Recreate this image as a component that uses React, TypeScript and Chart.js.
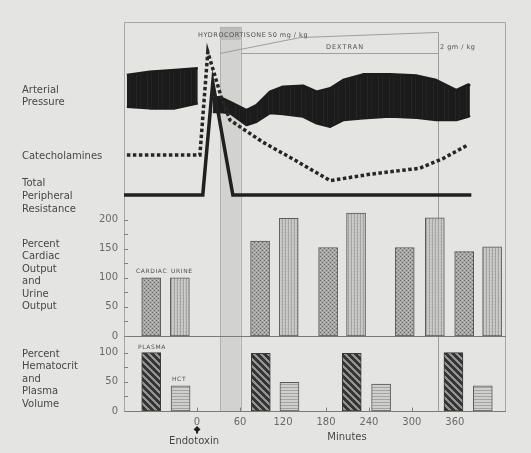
import React, { useEffect, useRef } from 'react';
import { Chart, registerables } from 'chart.js';

Chart.register(...registerables);

// ---------------- DATA ----------------
const xTickMinutes = [0, 60, 120, 180, 240, 300, 360];
const xTickLabels = ['0', '60', '120', '180', '240', '300', '360'];
const midTickValues = [0, 25, 50, 75, 100, 125, 150, 175, 200];
const midTickLabels = ['0', '', '50', '', '100', '', '150', '', '200'];
const botTickValues = [0, 25, 50, 75, 100];
const botTickLabels = ['0', '', '50', '', '100'];

// top panel traces (arbitrary level units, 0..100)
const tprMinutes = [-102, 8, 22, 50, 383];
const tprLevel = [5.5, 5.5, 67, 5.5, 5.5];

const catecholMinutes = [-98, 4, 15, 35, 46, 92, 139, 186, 241, 311, 344, 378];
const catecholLevel = [27.3, 27.3, 83.6, 57.4, 46.4, 34.3, 24, 13.3, 16.8, 20.1, 25.5, 32.8];

const apPreMinutes = [-98, -66, -31, 1];
const apPreUpper = [71, 72.8, 73.8, 74.7];
const apPreLower = [53.7, 52.8, 52.8, 55.6];

const apPostMinutes = [22, 32, 46, 69, 83, 102, 120, 148, 167, 186, 204, 232, 269, 307, 334, 362, 379, 381];
const apPostUpper = [58.5, 59, 56.4, 51.9, 54.6, 61.9, 64.6, 65.2, 61.9, 63.8, 68.3, 71.4, 71.4, 70.7, 68.3, 62.8, 65.9, 65];
const apPostLower = [50.8, 50.8, 50.3, 43.7, 45.5, 50.3, 49.7, 48.3, 44.6, 42.8, 46.4, 47.4, 48.3, 47.7, 46.4, 46.4, 48.3, 49];

// middle panel: percent cardiac output and urine output
const cardiacMinutes = [-64, 88, 183, 290, 373];
const cardiacPercent = [100, 163, 152, 152, 145];
const urineMinutes = [-24, 128, 222, 332, 412];
const urinePercent = [100, 202, 211, 203, 153];

// bottom panel: percent hematocrit and plasma volume
const plasmaMinutes = [-64, 89, 216, 358];
const plasmaPercent = [100, 99, 99, 100];
const hctMinutes = [-23, 129, 257, 399];
const hctPercent = [43, 49, 46, 43];

// infusions
const hydrocortisoneMinutes = [32, 61];
const dextranSlopeMinutes = [32, 144, 337];
const dextranSlopeLevel = [82.8, 91.5, 94.3];
const dextranEndMinute = 337;
const dextranBaseLevel = 82.8;
const endotoxinMinute = 0;

// ---------------- STYLE ----------------
const BG = '#e4e4e2';
const FONT = '"DejaVu Sans", sans-serif';
const TEXT = '#474747';
const TICK = '#6a6a6a';

const pts = (xs: number[], ys: number[]) => xs.map((x, i) => ({ x, y: ys[i] }));

function makePattern(w: number, h: number, draw: (g: CanvasRenderingContext2D) => void) {
  const c = document.createElement('canvas');
  c.width = w;
  c.height = h;
  const g = c.getContext('2d')!;
  draw(g);
  return g.createPattern(c, 'repeat')!;
}

const decorPlugin = {
  id: 'decor',
  beforeDatasetsDraw(chart: any) {
    const { ctx, chartArea: a, scales } = chart;
    const x = scales.x, yT = scales.yTop, yM = scales.yMid, yB = scales.yBot;
    ctx.save();
    // hydrocortisone band
    const bx0 = x.getPixelForValue(hydrocortisoneMinutes[0]);
    const bx1 = x.getPixelForValue(hydrocortisoneMinutes[1]);
    const by0 = yT.getPixelForValue(97.3);
    const byDark = yT.getPixelForValue(90.2);
    const by1 = yB.getPixelForValue(0);
    ctx.fillStyle = '#d2d2d0';
    ctx.fillRect(bx0, by0, bx1 - bx0, by1 - by0);
    ctx.fillStyle = '#bcbcba';
    ctx.fillRect(bx0, by0, bx1 - bx0, byDark - by0);
    ctx.strokeStyle = '#b2b2b0';
    ctx.lineWidth = 1;
    ctx.strokeRect(Math.round(bx0) + 0.5, Math.round(by0) + 0.5, Math.round(bx1 - bx0), Math.round(by1 - by0));

    // frame
    ctx.strokeStyle = '#a6a6a4';
    ctx.beginPath();
    ctx.moveTo(a.left + 0.5, a.bottom);
    ctx.lineTo(a.left + 0.5, a.top + 0.5);
    ctx.lineTo(a.right + 0.5, a.top + 0.5);
    ctx.lineTo(a.right + 0.5, a.bottom);
    ctx.stroke();

    // dextran infusion lines
    ctx.strokeStyle = '#9e9e9c';
    ctx.beginPath();
    dextranSlopeMinutes.forEach((m, i) => {
      const px = x.getPixelForValue(m), py = yT.getPixelForValue(dextranSlopeLevel[i]);
      if (i === 0) ctx.moveTo(px, py); else ctx.lineTo(px, py);
    });
    ctx.stroke();
    const dxEnd = Math.round(x.getPixelForValue(dextranEndMinute)) + 0.5;
    const baseY = Math.round(yT.getPixelForValue(dextranBaseLevel)) + 0.5;
    ctx.beginPath();
    ctx.moveTo(bx1, baseY);
    ctx.lineTo(dxEnd, baseY);
    ctx.moveTo(dxEnd, yT.getPixelForValue(dextranSlopeLevel[2]));
    ctx.lineTo(dxEnd, by1);
    ctx.stroke();

    // panel separator and bottom axis
    ctx.strokeStyle = '#7a7a78';
    const sepY = Math.round(yM.getPixelForValue(0)) + 0.5;
    const botY = Math.round(yB.getPixelForValue(0)) + 0.5;
    ctx.beginPath();
    ctx.moveTo(a.left, sepY);
    ctx.lineTo(a.right + 1, sepY);
    ctx.moveTo(a.left, botY);
    ctx.lineTo(a.right + 1, botY);
    ctx.stroke();

    // inner tick marks
    ctx.strokeStyle = '#808080';
    ctx.beginPath();
    [yM, yB].forEach((s: any) => {
      s.ticks.forEach((t: any) => {
        const py = Math.round(s.getPixelForValue(t.value)) + 0.5;
        ctx.moveTo(a.left, py);
        ctx.lineTo(a.left + 4, py);
      });
    });
    x.ticks.forEach((t: any) => {
      const px = Math.round(x.getPixelForValue(t.value)) + 0.5;
      ctx.moveTo(px, botY);
      ctx.lineTo(px, botY - 4);
    });
    ctx.stroke();
    ctx.restore();
  },
  afterDraw(chart: any) {
    const { ctx, scales } = chart;
    const x = scales.x;
    ctx.save();
    ctx.fillStyle = TEXT;
    ctx.textBaseline = 'middle';
    ctx.textAlign = 'left';
    ctx.font = `10px ${FONT}`;
    const left: [string, number][] = [
      ['Arterial', 90], ['Pressure', 102],
      ['Catecholamines', 156],
      ['Total', 183.5], ['Peripheral', 196.5], ['Resistance', 209],
      ['Percent', 244], ['Cardiac', 256.7], ['Output', 269.3], ['and', 281.7], ['Urine', 294.3], ['Output', 306.7],
      ['Percent', 354.3], ['Hematocrit', 366.8], ['and', 379.3], ['Plasma', 391.8], ['Volume', 404.3],
    ];
    left.forEach(([t, y]) => ctx.fillText(t, 22, y));

    ctx.fillStyle = '#505050';
    (ctx as any).letterSpacing = '0.5px';
    ctx.font = `6.5px ${FONT}`;
    ctx.fillText('HYDROCORTISONE', 198, 35);
    ctx.fillText('50 mg / kg', 268, 35);
    ctx.fillText('2 gm / kg', 440, 47);
    (ctx as any).letterSpacing = '1px';
    ctx.textAlign = 'center';
    ctx.fillText('DEXTRAN', 345, 47);
    ctx.textAlign = 'left';
    (ctx as any).letterSpacing = '0.6px';
    ctx.font = `6px ${FONT}`;
    ctx.fillText('CARDIAC', 136, 271);
    ctx.fillText('URINE', 171, 271);
    ctx.fillText('PLASMA', 138, 347);
    ctx.fillText('HCT', 172, 379);
    (ctx as any).letterSpacing = '0px';

    // endotoxin marker
    const ex = x.getPixelForValue(endotoxinMinute);
    ctx.fillStyle = '#1e1e1e';
    ctx.beginPath();
    ctx.moveTo(ex, 426);
    ctx.lineTo(ex + 3.5, 429.5);
    ctx.lineTo(ex + 1, 431.5);
    ctx.lineTo(ex + 1, 433.5);
    ctx.lineTo(ex - 1, 433.5);
    ctx.lineTo(ex - 1, 431.5);
    ctx.lineTo(ex - 3.5, 429.5);
    ctx.closePath();
    ctx.fill();

    ctx.fillStyle = TEXT;
    ctx.font = `10px ${FONT}`;
    ctx.textAlign = 'center';
    ctx.fillText('Endotoxin', ex - 3, 441);
    ctx.fillText('Minutes', 347, 437);
    ctx.restore();
  },
};

export default function App() {
  const ref = useRef<HTMLCanvasElement>(null);

  useEffect(() => {
    const canvas = ref.current!;
    const cardiacPat = makePattern(4, 4, (g) => {
      g.fillStyle = '#a6a6a4'; g.fillRect(0, 0, 4, 4);
      g.fillStyle = '#6c6c6a'; g.fillRect(0, 0, 1, 1); g.fillRect(2, 2, 1, 1);
      g.fillStyle = '#c2c2c0'; g.fillRect(2, 0, 1, 1); g.fillRect(0, 2, 1, 1);
    });
    const urinePat = makePattern(3, 3, (g) => {
      g.fillStyle = '#cacac8'; g.fillRect(0, 0, 3, 3);
      g.fillStyle = '#a4a4a2'; g.fillRect(0, 0, 1, 3);
      g.fillStyle = '#b8b8b6'; g.fillRect(2, 1, 1, 1);
    });
    const plasmaPat = makePattern(7, 7, (g) => {
      g.fillStyle = '#959593'; g.fillRect(0, 0, 7, 7);
      g.fillStyle = '#353535';
      for (let yy = 0; yy < 7; yy++) {
        for (let xx = 0; xx < 7; xx++) {
          const d = ((xx - yy) % 7 + 7) % 7;
          if (d < 4) g.fillRect(xx, yy, 1, 1);
        }
      }
    });
    const hctPat = makePattern(3, 3, (g) => {
      g.fillStyle = '#cfcfcd'; g.fillRect(0, 0, 3, 3);
      g.fillStyle = '#a3a3a1'; g.fillRect(0, 0, 3, 1);
    });
    // pressure trace texture: dense dark fill with very faint vertical streaks
    const apPat = makePattern(11, 4, (g) => {
      g.fillStyle = '#1b1b1b'; g.fillRect(0, 0, 11, 4);
      g.fillStyle = '#272727'; g.fillRect(4, 0, 1, 4);
      g.fillStyle = '#222222'; g.fillRect(8, 0, 1, 4);
    });

    const AP = '#1c1c1c';
    const lineBase = { type: 'line', xAxisID: 'x', yAxisID: 'yTop', pointRadius: 0, tension: 0 };
    const apEdge = { borderColor: AP, borderWidth: 2.5, borderJoinStyle: 'round' };
    const barBase = { type: 'bar', xAxisID: 'x', barThickness: 19, grouped: false, borderWidth: 1, borderColor: '#5a5a58', borderSkipped: false };

    const chart = new Chart(canvas, {
      type: 'bar',
      data: {
        datasets: [
          { ...lineBase, label: 'Total Peripheral Resistance', data: pts(tprMinutes, tprLevel), borderColor: '#202020', borderWidth: 3.5, borderJoinStyle: 'miter', fill: false },
          { ...lineBase, label: 'Catecholamines', data: pts(catecholMinutes, catecholLevel), borderColor: '#262626', borderWidth: 3.5, borderDash: [3.5, 2.5], borderCapStyle: 'butt', fill: false },
          { ...lineBase, ...apEdge, label: 'Arterial Pressure (upper)', data: pts(apPreMinutes, apPreUpper), backgroundColor: apPat, fill: '+1' },
          { ...lineBase, ...apEdge, label: 'Arterial Pressure (lower)', data: pts(apPreMinutes, apPreLower), fill: false },
          { ...lineBase, ...apEdge, label: 'Arterial Pressure post (upper)', data: pts(apPostMinutes, apPostUpper), backgroundColor: apPat, fill: '+1' },
          { ...lineBase, ...apEdge, label: 'Arterial Pressure post (lower)', data: pts(apPostMinutes, apPostLower), fill: false },
          { ...barBase, label: 'Cardiac', yAxisID: 'yMid', data: pts(cardiacMinutes, cardiacPercent), backgroundColor: cardiacPat },
          { ...barBase, label: 'Urine', yAxisID: 'yMid', data: pts(urineMinutes, urinePercent), backgroundColor: urinePat },
          { ...barBase, label: 'Plasma', yAxisID: 'yBot', data: pts(plasmaMinutes, plasmaPercent), backgroundColor: plasmaPat, borderColor: '#3a3a3a' },
          { ...barBase, label: 'HCT', yAxisID: 'yBot', data: pts(hctMinutes, hctPercent), backgroundColor: hctPat },
        ] as any,
      },
      options: {
        responsive: false,
        devicePixelRatio: 1,
        animation: false,
        layout: { padding: { top: 22, right: 26, left: 0, bottom: 0 } },
        plugins: { legend: { display: false }, tooltip: { enabled: false } },
        scales: {
          x: {
            type: 'linear', min: -102, max: 430, offset: false,
            afterBuildTicks: (s: any) => { s.ticks = xTickMinutes.map((v) => ({ value: v })); },
            afterFit: (s: any) => { s.height = 42; },
            grid: { display: false, drawTicks: false, offset: false },
            border: { display: false },
            ticks: {
              padding: 5, color: TICK, font: { family: FONT, size: 10 }, autoSkip: false, maxRotation: 0,
              callback: (_v: any, i: number) => xTickLabels[i],
            },
          },
          yBot: {
            type: 'linear', position: 'left', stack: 'panels', stackWeight: 75, min: 0, max: 128.6,
            afterBuildTicks: (s: any) => { s.ticks = botTickValues.map((v) => ({ value: v })); },
            afterFit: (s: any) => { s.width = 124; },
            grid: { display: false, drawTicks: false },
            border: { display: false },
            ticks: { padding: 6, color: TICK, font: { family: FONT, size: 10 }, autoSkip: false, callback: (_v: any, i: number) => botTickLabels[i] },
          },
          yMid: {
            type: 'linear', position: 'left', stack: 'panels', stackWeight: 131, min: 0, max: 225,
            afterBuildTicks: (s: any) => { s.ticks = midTickValues.map((v) => ({ value: v })); },
            afterFit: (s: any) => { s.width = 124; },
            grid: { display: false, drawTicks: false },
            border: { display: false },
            ticks: { padding: 6, color: TICK, font: { family: FONT, size: 10 }, autoSkip: false, callback: (_v: any, i: number) => midTickLabels[i] },
          },
          yTop: {
            type: 'linear', position: 'left', stack: 'panels', stackWeight: 183, min: 0, max: 100,
            afterFit: (s: any) => { s.width = 124; },
            grid: { display: false, drawTicks: false },
            border: { display: false },
            ticks: { display: false },
          },
        },
      } as any,
      plugins: [decorPlugin as any],
    });
    return () => chart.destroy();
  }, []);

  return (
    <div style={{ position: 'fixed', left: 0, top: 0, width: 531, height: 453, background: BG }}>
      <canvas ref={ref} width={531} height={453} style={{ display: 'block', width: 531, height: 453 }} />
    </div>
  );
}
